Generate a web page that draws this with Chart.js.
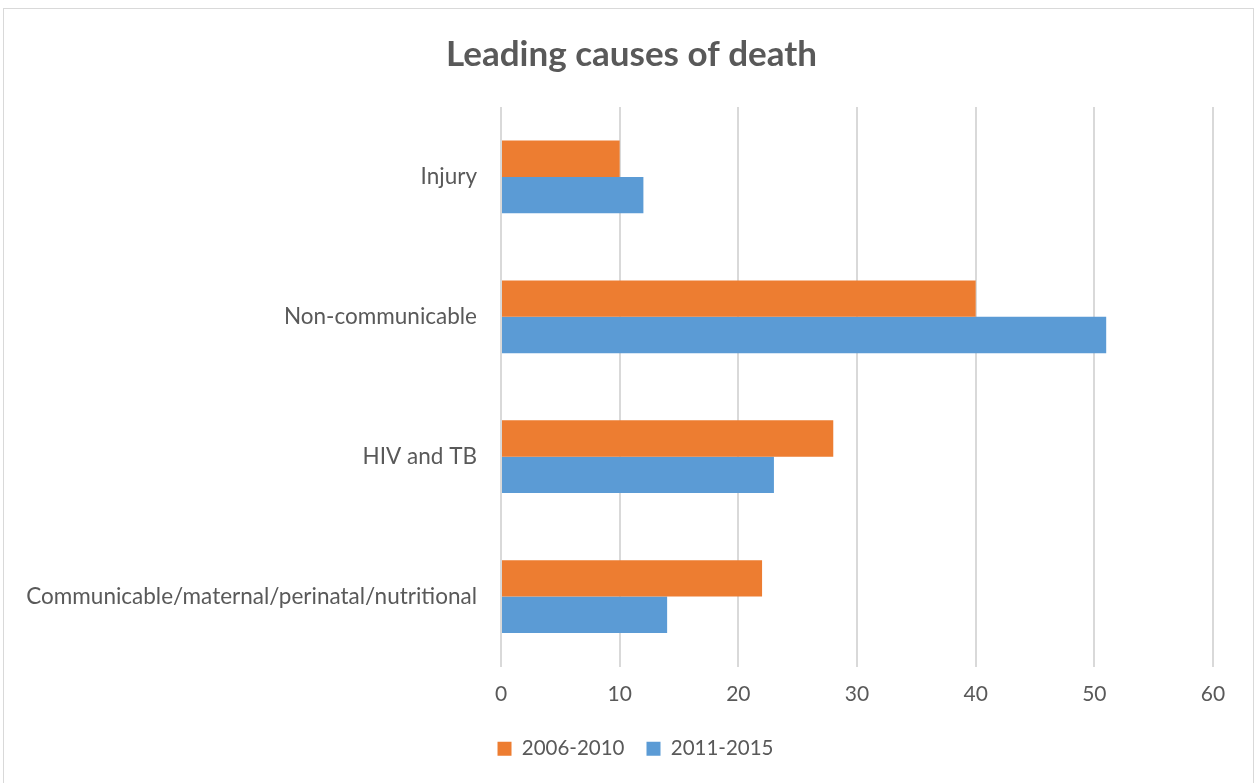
<!DOCTYPE html>
<html>
<head>
<meta charset="utf-8">
<script src="https://cdn.jsdelivr.net/npm/chart.js@4.4.1/dist/chart.umd.min.js"></script>
<style>
  html, body { margin: 0; padding: 0; background: #fff; overflow: hidden; }
  #wrap { position: relative; width: 1259px; height: 783px; }
  #frame { position: absolute; left: 3px; top: 8px; width: 1249px; height: 800px; border: 1px solid #d9d9d9; pointer-events: none; }
</style>
</head>
<body>
<div id="wrap">
  <canvas id="chart" width="1259" height="783"></canvas>
  <div id="frame"></div>
</div>
<script>
// --- data ---
const categories = ['Injury', 'Non-communicable', 'HIV and TB', 'Communicable/maternal/perinatal/nutritional'];
const seriesNames = ['2006-2010', '2011-2015'];
const values0610 = [10, 40, 28, 22];
const values1115 = [12, 51, 23, 14];
const xTicks = [0, 10, 20, 30, 40, 50, 60];

const FONT = 'Lato, "Open Sans", sans-serif';
const TEXT = '#595959';

// title and legend in the original sit right of the canvas centre
const centreShift = {
    id: 'centreShift',
    afterLayout(chart) {
        chart.legend.left += 29;
        chart.legend.right += 29;
        chart.titleBlock.left += 25;
        chart.titleBlock.right += 25;
    }
};

new Chart(document.getElementById('chart'), {
    type: 'bar',
    data: {
        labels: categories,
        datasets: [
            { label: seriesNames[0], data: values0610, backgroundColor: '#ED7D31', categoryPercentage: 0.52, barPercentage: 1 },
            { label: seriesNames[1], data: values1115, backgroundColor: '#5B9BD5', categoryPercentage: 0.52, barPercentage: 1 }
        ]
    },
    options: {
        indexAxis: 'y',
        responsive: false,
        animation: false,
        layout: { padding: { left: 0, right: 46, top: 0, bottom: 14 } },
        scales: {
            x: {
                min: xTicks[0], max: xTicks[xTicks.length - 1],
                afterBuildTicks: (s) => { s.ticks = xTicks.map(v => ({ value: v })); },
                afterFit: (s) => { s.height = 50; },
                grid: { color: '#d9d9d9', lineWidth: 2, drawTicks: false },
                border: { display: false },
                ticks: { color: TEXT, font: { family: FONT, size: 21 }, padding: 15 }
            },
            y: {
                grid: { display: false },
                border: { display: false },
                afterFit: (s) => { s.width = 501; },
                ticks: { color: TEXT, font: { family: FONT, size: 22.5 }, padding: 16 }
            }
        },
        plugins: {
            title: {
                display: true,
                text: 'Leading causes of death',
                color: TEXT,
                font: { family: FONT, size: 35, weight: 'bold' },
                padding: { top: 34, bottom: 31 }
            },
            legend: {
                position: 'bottom',
                labels: { color: TEXT, font: { family: FONT, size: 20.5 }, boxWidth: 14, boxHeight: 14, padding: 22 }
            },
            tooltip: { enabled: false }
        }
    },
    plugins: [centreShift]
});
</script>
</body>
</html>
